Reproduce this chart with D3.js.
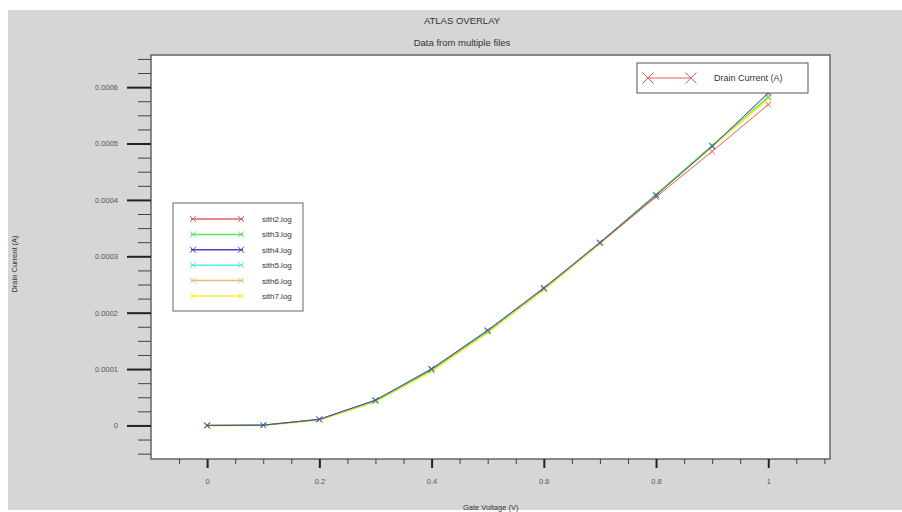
<!DOCTYPE html>
<html>
<head>
<meta charset="utf-8">
<script src="https://cdn.jsdelivr.net/npm/d3@7"></script>
<style>
  body { margin: 0; background: #fff; }
  svg text { font-family: "Liberation Sans Narrow", "Liberation Sans", Arial, sans-serif; fill: #333; }
</style>
</head>
<body>
<div id="chart"></div>
<script>
// data
var gateVoltage = [0, 0.1, 0.2, 0.3, 0.4, 0.5, 0.6, 0.7, 0.8, 0.9, 1.0];
var sith2 = [0, 0.0000005, 0.0000105, 0.0000440, 0.0000990, 0.0001670, 0.0002420, 0.0003230, 0.0004050, 0.0004860, 0.0005690];
var sith3 = [0, 0.0000005, 0.0000105, 0.0000435, 0.0000980, 0.0001665, 0.0002425, 0.0003240, 0.0004100, 0.0004970, 0.0005820];
var sith4 = [0, 0.0000005, 0.0000110, 0.0000450, 0.0001005, 0.0001690, 0.0002440, 0.0003245, 0.0004080, 0.0004950, 0.0005900];
var sith5 = [0, 0.0000005, 0.0000108, 0.0000445, 0.0000995, 0.0001680, 0.0002435, 0.0003245, 0.0004090, 0.0004960, 0.0005880];
var sith6 = [0, 0.0000005, 0.0000106, 0.0000440, 0.0000990, 0.0001670, 0.0002425, 0.0003240, 0.0004090, 0.0004950, 0.0005840];
var sith7 = [0, 0.0000005, 0.0000100, 0.0000425, 0.0000965, 0.0001650, 0.0002410, 0.0003230, 0.0004090, 0.0004950, 0.0005800];
var seriesNames = ['sith2.log', 'sith3.log', 'sith4.log', 'sith5.log', 'sith6.log', 'sith7.log'];
var seriesColors = ['#e06060', '#5ae05a', '#4646c0', '#5ae6e6', '#e6bd78', '#f2f238'];
var drawOrder = [5, 4, 3, 0, 1, 2]; // yellow underneath, blue on top
var xMajor = [0, 0.2, 0.4, 0.6, 0.8, 1];
var xMinor = [-0.05, 0.05, 0.1, 0.15, 0.25, 0.3, 0.35, 0.45, 0.5, 0.55, 0.65, 0.7, 0.75, 0.85, 0.9, 0.95, 1.05, 1.1];
var yMajor = [0, 0.0001, 0.0002, 0.0003, 0.0004, 0.0005, 0.0006];
var yMinor = [-0.00005, -0.000025, 0.000025, 0.00005, 0.000075, 0.000125, 0.00015, 0.000175, 0.000225, 0.00025, 0.000275,
              0.000325, 0.00035, 0.000375, 0.000425, 0.00045, 0.000475, 0.000525, 0.00055, 0.000575, 0.000625, 0.00065];

var allSeries = [sith2, sith3, sith4, sith5, sith6, sith7];

var plotLeft = 151, plotRight = 830, plotTop = 55, plotBottom = 459;

var svg = d3.select('#chart')
    .append('svg')
    .attr('width', 902)
    .attr('height', 512);

// grey panel
svg.append('rect')
    .attr('x', 8).attr('y', 10)
    .attr('width', 894).attr('height', 500)
    .attr('fill', '#d6d6d6');

svg.append('text')
    .attr('x', 462).attr('y', 24)
    .attr('text-anchor', 'middle')
    .style('font-size', '9.5px')
    .text('ATLAS OVERLAY');

svg.append('text')
    .attr('x', 462).attr('y', 46)
    .attr('text-anchor', 'middle')
    .style('font-size', '9.5px')
    .text('Data from multiple files');

var xscale = d3.scaleLinear().domain([-0.1, 1.11]).range([plotLeft, plotRight]);
var yscale = d3.scaleLinear().domain([-0.0000595, 0.000657]).range([plotBottom, plotTop]);

// plot area
svg.append('rect')
    .attr('x', plotLeft).attr('y', plotTop)
    .attr('width', plotRight - plotLeft).attr('height', plotBottom - plotTop)
    .attr('fill', '#fff')
    .attr('stroke', '#666')
    .attr('stroke-width', 1.5);

// x axis
var gx = svg.append('g').attr('transform', 'translate(0,' + plotBottom + ')');
gx.append('g')
    .call(d3.axisBottom(xscale).tickValues(xMinor).tickSize(5).tickFormat(''))
    .call(g => g.select('.domain').remove())
    .selectAll('line').attr('stroke', '#444');
gx.append('g')
    .call(d3.axisBottom(xscale).tickValues(xMajor).tickSize(9).tickPadding(11).tickFormat(d3.format('~g')))
    .call(g => g.select('.domain').remove())
    .call(g => g.selectAll('line').attr('stroke', '#222').attr('stroke-width', 2))
    .selectAll('text')
    .style('font-size', '7.5px')
    .style('fill', '#555');

// y axis
var gy = svg.append('g').attr('transform', 'translate(' + plotLeft + ',0)');
gy.append('g')
    .call(d3.axisLeft(yscale).tickValues(yMinor).tickSize(13).tickFormat(''))
    .call(g => g.select('.domain').remove())
    .selectAll('line').attr('stroke', '#444');
gy.append('g')
    .call(d3.axisLeft(yscale).tickValues(yMajor).tickSize(24).tickPadding(9).tickFormat(d => d === 0 ? '0' : d.toFixed(4)))
    .call(g => g.select('.domain').remove())
    .call(g => g.selectAll('line').attr('stroke', '#222').attr('stroke-width', 2))
    .selectAll('text')
    .style('font-size', '7.5px')
    .style('fill', '#555');

svg.append('text')
    .attr('transform', 'translate(17,264) rotate(-90)')
    .attr('text-anchor', 'middle')
    .style('font-size', '7.5px')
    .text('Drain Current (A)');

svg.append('text')
    .attr('x', 463).attr('y', 510)
    .style('font-size', '7.5px')
    .text('Gate Voltage (V)');

// cross marker
function cross(cx, cy, r) {
    return 'M' + (cx - r) + ',' + (cy - r) + 'L' + (cx + r) + ',' + (cy + r) +
           'M' + (cx - r) + ',' + (cy + r) + 'L' + (cx + r) + ',' + (cy - r);
}

var line = d3.line()
    .x((d, i) => xscale(gateVoltage[i]))
    .y(d => yscale(d));

var plot = svg.append('g');
drawOrder.forEach(function(s) {
    var values = allSeries[s];
    plot.append('path')
        .attr('d', line(values))
        .attr('fill', 'none')
        .attr('stroke', seriesColors[s])
        .attr('stroke-width', s === 5 ? 2.2 : 1);
    plot.selectAll('.m' + s)
        .data(values)
        .enter()
        .append('path')
        .attr('d', (d, i) => cross(xscale(gateVoltage[i]), yscale(d), 2.8))
        .attr('stroke', seriesColors[s])
        .attr('stroke-width', 1)
        .attr('fill', 'none');
});

// file legend
var lg = svg.append('g');
lg.append('rect')
    .attr('x', 173).attr('y', 203)
    .attr('width', 130).attr('height', 108)
    .attr('fill', '#fff')
    .attr('stroke', '#666')
    .attr('stroke-width', 1);
seriesNames.forEach(function(name, s) {
    var ly = 219 + s * 15.4;
    lg.append('line')
        .attr('x1', 191).attr('x2', 243)
        .attr('y1', ly).attr('y2', ly)
        .attr('stroke', seriesColors[s])
        .attr('stroke-width', 1.5);
    lg.append('path')
        .attr('d', cross(193, ly, 3) + cross(241, ly, 3))
        .attr('stroke', seriesColors[s])
        .attr('fill', 'none');
    lg.append('text')
        .attr('x', 262).attr('y', ly + 3)
        .style('font-size', '8px')
        .text(name);
});

// quantity legend
var lq = svg.append('g');
lq.append('rect')
    .attr('x', 637).attr('y', 63)
    .attr('width', 171).attr('height', 30)
    .attr('fill', '#fff')
    .attr('stroke', '#555')
    .attr('stroke-width', 1);
lq.append('line')
    .attr('x1', 648).attr('x2', 691)
    .attr('y1', 78).attr('y2', 78)
    .attr('stroke', '#e06060')
    .attr('stroke-width', 1);
lq.append('path')
    .attr('d', cross(648, 78, 5.5) + cross(691, 78, 5.5))
    .attr('stroke', '#e06060')
    .attr('fill', 'none');
lq.append('text')
    .attr('x', 714).attr('y', 81)
    .style('font-size', '9px')
    .text('Drain Current (A)');
</script>
</body>
</html>
